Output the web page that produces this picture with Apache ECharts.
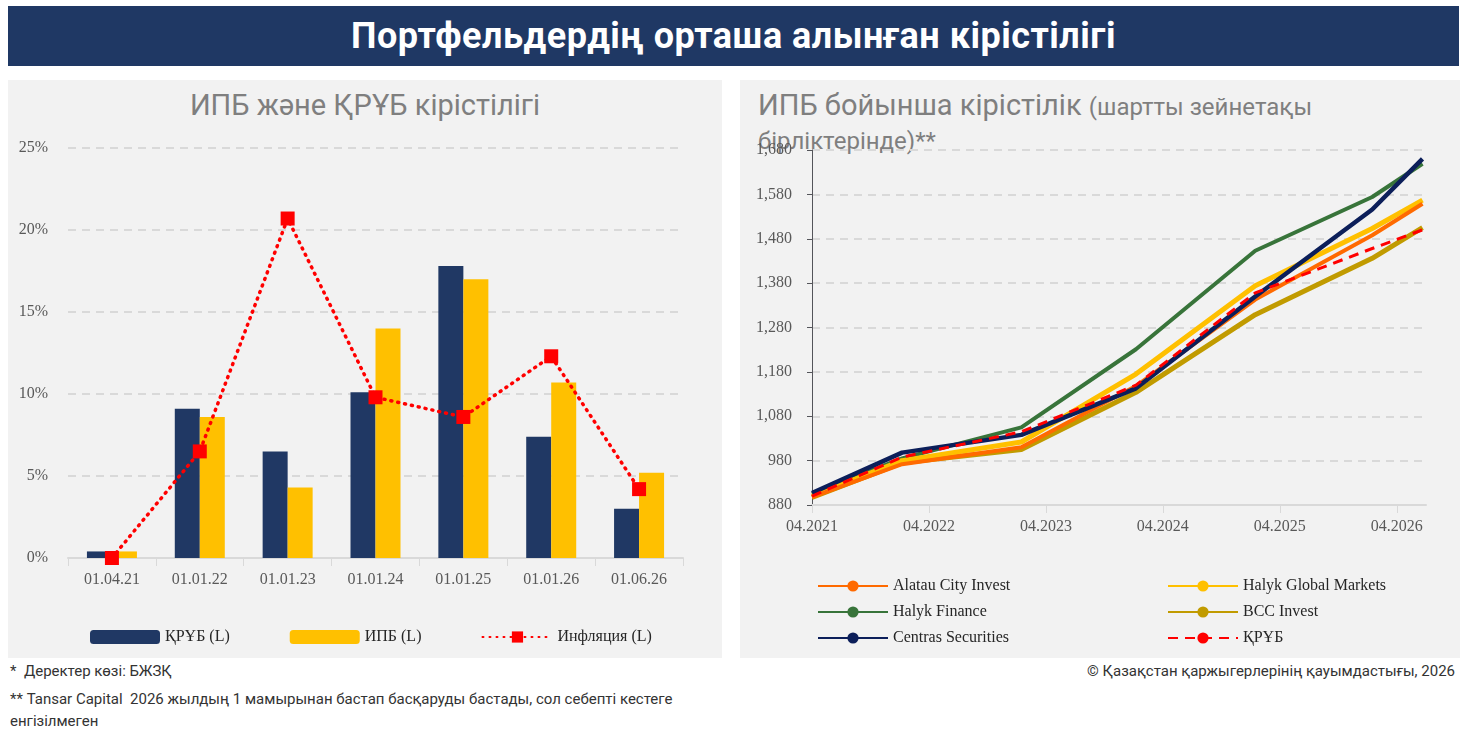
<!DOCTYPE html><html><head><meta charset="utf-8">
<script src="https://cdn.jsdelivr.net/npm/echarts@6/dist/echarts.min.js"></script>
<style>
body{margin:0;width:1467px;height:735px;background:#fff;font-family:"Liberation Sans Narrow","Roboto",sans-serif;position:relative;overflow:hidden}
.abs{position:absolute}
#hdr{left:8px;top:6px;width:1451px;height:60px;background:#1f3864;color:#fff;font-size:36px;font-weight:bold;text-align:center;line-height:60px;letter-spacing:0.5px}
.panel{background:#f2f2f2;top:80px;height:578px}
.t{color:#7f7f7f;font-size:29px;top:88px}
.fn{font-size:15px;color:#333}
#c{left:0;top:0;width:1467px;height:735px}
</style></head><body>
<div id="hdr" class="abs">Портфельдердің орташа алынған кірістілігі</div>
<div class="abs panel" style="left:8px;width:714px"></div>
<div class="abs panel" style="left:740px;width:720px"></div>
<div class="abs t" style="left:8px;width:714px;text-align:center">ИПБ және ҚРҰБ кірістілігі</div>
<div class="abs t" style="left:758px">ИПБ бойынша кірістілік <span style="font-size:24px">(шартты зейнетақы бірліктерінде)**</span></div>
<div class="abs fn" style="left:10px;top:662px">*&nbsp;&nbsp;Деректер көзі: БЖЗҚ</div>
<div class="abs fn" style="left:10px;top:688px;width:700px;line-height:22px">**&nbsp;Tansar Capital&nbsp;&nbsp;2026 жылдың 1 мамырынан бастап басқаруды бастады, сол себепті кестеге енгізілмеген</div>
<div class="abs fn" style="right:12px;top:662px">© Қазақстан қаржыгерлерінің қауымдастығы, 2026</div>
<div id="c" class="abs"></div>
<script>
const categories=['01.04.21','01.01.22','01.01.23','01.01.24','01.01.25','01.01.26','01.06.26'];
const krub=[0.4,9.1,6.5,10.1,17.8,7.4,3.0];
const ipb=[0.4,8.6,4.3,14.0,17.0,10.7,5.2];
const inflation=[0,6.5,20.7,9.8,8.6,12.3,4.2];
const xYears=[0,0.77,1.79,2.77,3.79,4.79,5.22];
const yearLabels=['04.2021','04.2022','04.2023','04.2024','04.2025','04.2026'];
const alatau=[898,972,1010,1148,1343,1488,1559];
const halykGM=[900,980,1022,1175,1374,1503,1567];
const halykF=[905,985,1055,1231,1453,1574,1649];
const bcc=[897,975,1005,1134,1309,1436,1505];
const centras=[907,998,1038,1143,1350,1546,1660];
const krubIdx=[900,988,1045,1150,1358,1458,1500];
const pair=a=>a.map((v,i)=>[xYears[i],v]);
const F="Liberation Sans Narrow";
const lab={color:'#595959',fontSize:16,fontFamily:F};
const ch=echarts.init(document.getElementById('c'));
const ln=(name,d,color,w,extra)=>Object.assign({name,type:'line',xAxisIndex:1,yAxisIndex:1,data:pair(d),symbol:'none',lineStyle:{color,width:w},itemStyle:{color}},extra||{});
ch.setOption({
animation:false,
textStyle:{fontFamily:F},
grid:[{left:68,right:784,top:148,bottom:177},{left:812,right:41,top:150,bottom:230}],
xAxis:[{type:'category',data:categories,gridIndex:0,axisLine:{lineStyle:{color:'#d9d9d9',width:2}},axisTick:{show:true,lineStyle:{color:'#d9d9d9'},length:8},axisLabel:Object.assign({margin:14},lab)},
{type:'value',gridIndex:1,min:0,max:5.25,interval:1,axisLine:{lineStyle:{color:'#d9d9d9',width:2}},axisTick:{show:true,lineStyle:{color:'#d9d9d9'},length:8},splitLine:{show:false},axisLabel:Object.assign({margin:14,showMaxLabel:false,formatter:v=>yearLabels[Math.round(v)]||''},lab)}],
yAxis:[{type:'value',gridIndex:0,min:0,max:25,interval:5,axisLabel:Object.assign({formatter:'{value}%',margin:20},lab),splitLine:{lineStyle:{color:'#d9d9d9',type:[8,6],width:2}}},
{type:'value',gridIndex:1,min:880,max:1680,interval:100,axisLabel:Object.assign({margin:20},lab),splitLine:{lineStyle:{color:'#d9d9d9',type:[8,6],width:2}}}],
legend:[{data:['ҚРҰБ (L)','ИПБ (L)','Инфляция (L)'],left:85,top:624,itemGap:60,itemWidth:70,itemHeight:14,textStyle:{fontSize:16,color:'#262626',fontFamily:F}},
{data:['Alatau City Invest','Halyk Finance','Centras Securities'],orient:'vertical',left:812,top:573,itemGap:10,itemWidth:70,itemHeight:14,textStyle:{fontSize:16,color:'#262626',fontFamily:F}},
{data:['Halyk Global Markets','BCC Invest','ҚРҰБ'],orient:'vertical',left:1162,top:573,itemGap:10,itemWidth:70,itemHeight:14,textStyle:{fontSize:16,color:'#262626',fontFamily:F}}],
series:[
{name:'ҚРҰБ (L)',type:'bar',data:krub,barWidth:25,barGap:'0%',itemStyle:{color:'#203864'}},
{name:'ИПБ (L)',type:'bar',data:ipb,barWidth:25,itemStyle:{color:'#ffc000'}},
{name:'Инфляция (L)',type:'line',data:inflation,symbol:'rect',symbolSize:14,lineStyle:{color:'#ff0000',width:3.5,type:[1,6],cap:'round'},itemStyle:{color:'#ff0000'},z:5},
ln('Halyk Finance',halykF,'#38743a',4),
ln('BCC Invest',bcc,'#c19b00',5),
ln('Halyk Global Markets',halykGM,'#ffc000',5),
ln('Alatau City Invest',alatau,'#ff6a00',4),
ln('Centras Securities',centras,'#0c1f5a',4.5),
ln('ҚРҰБ',krubIdx,'#ff0000',3,{lineStyle:{color:'#ff0000',width:3,type:[10,7]}})
]});
</script></body></html>
